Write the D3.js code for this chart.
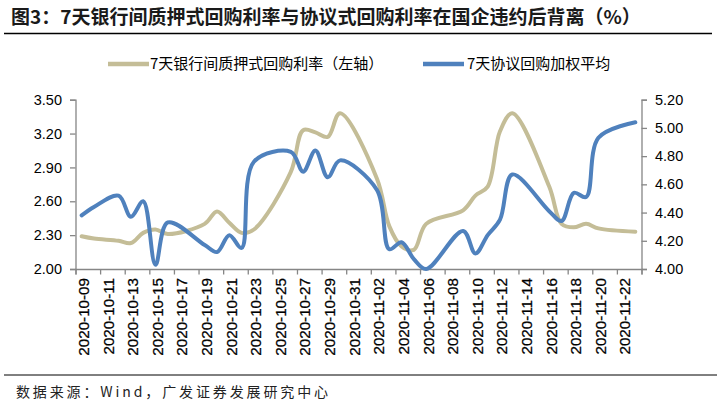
<!DOCTYPE html>
<html>
<head>
<meta charset="utf-8">
<script src="https://cdn.jsdelivr.net/npm/d3@7"></script>
<style>
  body { margin: 0; background: #fff; }
  svg { display: block; }
</style>
</head>
<body>
<script>
// 交易日
var dates = ["2020-10-09","2020-10-10","2020-10-12","2020-10-13","2020-10-14","2020-10-15","2020-10-16",
             "2020-10-19","2020-10-20","2020-10-21","2020-10-22","2020-10-23",
             "2020-10-26","2020-10-27","2020-10-28","2020-10-29","2020-10-30",
             "2020-11-02","2020-11-03","2020-11-04","2020-11-05","2020-11-06",
             "2020-11-09","2020-11-10","2020-11-11","2020-11-12","2020-11-13",
             "2020-11-16","2020-11-17","2020-11-18","2020-11-19","2020-11-20",
             "2020-11-23"];

// 7天银行间质押式回购利率（左轴）
var zhiya = [2.29, 2.27, 2.25, 2.23, 2.32, 2.35, 2.31,
             2.40, 2.51, 2.41, 2.32, 2.35,
             2.86, 3.23, 3.21, 3.17, 3.38,
             2.80, 2.38, 2.20, 2.17, 2.40,
             2.52, 2.65, 2.73, 3.22, 3.38,
             2.73, 2.40, 2.37, 2.40, 2.36,
             2.33];

// 7天协议回购加权平均（右轴）
var xieyi = [4.38, 4.44, 4.52, 4.37, 4.48, 4.03, 4.33,
             4.17, 4.12, 4.24, 4.15, 4.76,
             4.83, 4.69, 4.84, 4.65, 4.77,
             4.56, 4.14, 4.19, 4.07, 4.00,
             4.27, 4.11, 4.24, 4.35, 4.67,
             4.41, 4.34, 4.54, 4.51, 4.93,
             5.04];

var leftTicks = [2.00, 2.30, 2.60, 2.90, 3.20, 3.50];
var rightTicks = [4.00, 4.20, 4.40, 4.60, 4.80, 5.00, 5.20];
var firstDay = "2020-10-09", lastDay = "2020-11-23";

var titulo = "图3：7天银行间质押式回购利率与协议式回购利率在国企违约后背离（%）";
var nomes = ["7天银行间质押式回购利率（左轴）", "7天协议回购加权平均"];
var fonte = "数据来源：Wind，广发证券发展研究中心";
var cores = ["#C4BD97", "#4F81BD"];

var largura = 723, altura = 413;
var esq = 75.5, dir = 641.5, topo = 99.7, base = 269;
var parse = d3.utcParse("%Y-%m-%d");
var cjk = "'Noto Sans CJK SC', 'Noto Sans', sans-serif";
var arial = "'Liberation Sans', Arial, sans-serif";

var svg = d3.select("body").append("svg")
            .attr("width", largura)
            .attr("height", altura);

// título
svg.append("text")
   .attr("x", 11).attr("y", 24)
   .attr("font-family", cjk)
   .attr("font-weight", "bold")
   .attr("font-size", 19)
   .attr("fill", "#1a1a1a")
   .text(titulo);
svg.append("line")
   .attr("x1", 4).attr("x2", 712).attr("y1", 33.5).attr("y2", 33.5)
   .attr("stroke", "#000").attr("stroke-width", 1.4);

// escalas
var d0 = parse(firstDay), d1 = d3.utcDay.offset(parse(lastDay), 1);
var x = d3.scaleUtc().domain([d0, d1]).range([esq, dir]);
var yL = d3.scaleLinear().domain([2.0, 3.5]).range([base, topo]);
var yR = d3.scaleLinear().domain([4.0, 5.2]).range([base, topo]);
var meio = function(s) { return x(d3.utcHour.offset(parse(s), 12)); };

var eixoCor = "#868686";

// eixo esquerdo
var gL = svg.append("g").attr("transform", "translate(" + esq + ",0)")
            .call(d3.axisLeft(yL).tickValues(leftTicks).tickFormat(d3.format(".2f")).tickSize(5.5).tickPadding(8));
// eixo direito
var gR = svg.append("g").attr("transform", "translate(" + dir + ",0)")
            .call(d3.axisRight(yR).tickValues(rightTicks).tickFormat(d3.format(".2f")).tickSize(5.5).tickPadding(8));

// eixo x
var tickDias = d3.utcDay.range(d0, d1, 1).filter(function(d, i) { return i % 2 === 0; }).concat([d1]);
var gX = svg.append("g").attr("transform", "translate(0," + base + ")")
            .call(d3.axisBottom(x).tickValues(tickDias).tickFormat("").tickSize(5.5));

[gL, gR, gX].forEach(function(g) {
  g.select(".domain").attr("stroke", eixoCor).attr("stroke-width", 1.3);
  g.selectAll(".tick line").attr("stroke", eixoCor).attr("stroke-width", 1.3);
  g.selectAll("text").attr("font-family", arial).attr("font-size", 14.5).attr("fill", "#000");
});

var rotulos = tickDias.slice(0, -1);
svg.append("g").selectAll("text")
   .data(rotulos)
   .enter()
   .append("text")
   .attr("transform", function(d) {
     return "translate(" + (x(d3.utcHour.offset(d, 12)) + 2) + "," + (base + 9) + ") rotate(-90)";
   })
   .attr("text-anchor", "end")
   .attr("dy", "0.35em")
   .attr("font-family", arial)
   .attr("font-size", 15.2)
   .attr("fill", "#000")
   .attr("stroke", "#000")
   .attr("stroke-width", 0.25)
   .text(d3.utcFormat("%Y-%m-%d"));

// linhas
var linhaL = d3.line()
               .x(function(d, i) { return meio(dates[i]); })
               .y(function(d) { return yL(d); })
               .curve(d3.curveCatmullRom.alpha(0.5));
var linhaR = d3.line()
               .x(function(d, i) { return meio(dates[i]); })
               .y(function(d) { return yR(d); })
               .curve(d3.curveCatmullRom.alpha(0.5));

svg.append("path")
   .attr("d", linhaL(zhiya))
   .attr("fill", "none")
   .attr("stroke", cores[0])
   .attr("stroke-width", 4)
   .attr("stroke-linejoin", "round")
   .attr("stroke-linecap", "round");
svg.append("path")
   .attr("d", linhaR(xieyi))
   .attr("fill", "none")
   .attr("stroke", cores[1])
   .attr("stroke-width", 4)
   .attr("stroke-linejoin", "round")
   .attr("stroke-linecap", "round");

// legenda
var leg = [[108, 150], [423, 467]];
nomes.forEach(function(n, i) {
  svg.append("line")
     .attr("x1", leg[i][0]).attr("x2", leg[i][0] + 41)
     .attr("y1", 64).attr("y2", 64)
     .attr("stroke", cores[i]).attr("stroke-width", 4.5);
  svg.append("text")
     .attr("x", leg[i][1]).attr("y", 69)
     .attr("font-family", cjk)
     .attr("font-size", 15)
     .attr("fill", "#000")
     .text(n);
});

// fonte
svg.append("line")
   .attr("x1", 4).attr("x2", 717).attr("y1", 375).attr("y2", 375)
   .attr("stroke", "#000").attr("stroke-width", 1);
svg.append("text")
   .attr("x", 16).attr("y", 397)
   .attr("font-family", cjk)
   .attr("font-size", 14)
   .attr("fill", "#222")
   .attr("textLength", 312)
   .attr("lengthAdjust", "spacing")
   .text(fonte);
</script>
</body>
</html>
